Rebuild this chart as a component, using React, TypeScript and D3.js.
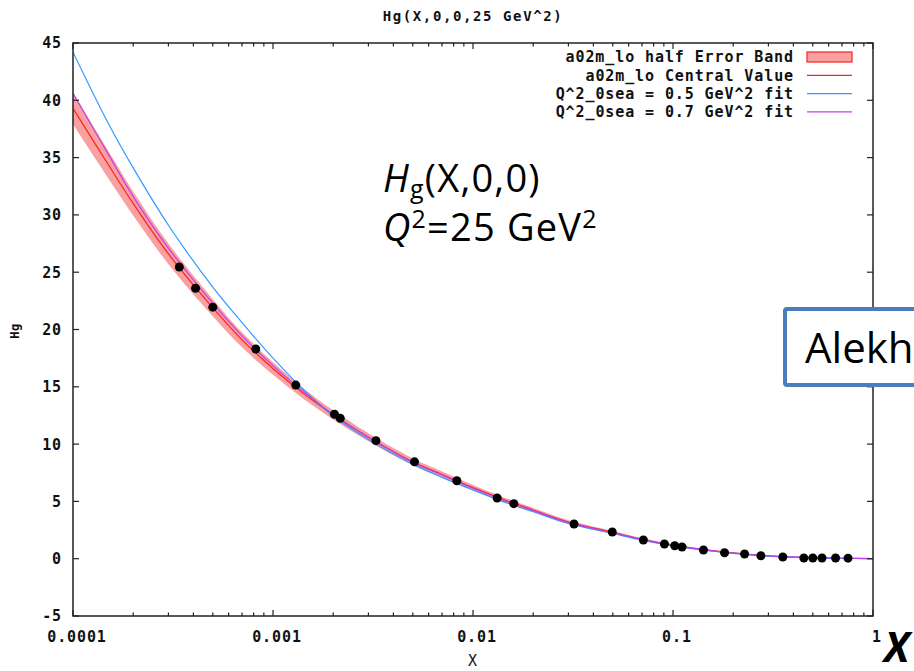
import React from "react";
import * as d3 from "d3";

const gridX = [1e-4, 1.5e-4, 2e-4, 3e-4, 5e-4, 7e-4, 1e-3, 1.5e-3, 2e-3, 3e-3, 5e-3, 7e-3, 1e-2, 1.5e-2, 2e-2, 3e-2, 5e-2, 7e-2, 0.1, 0.15, 0.2, 0.3, 0.5, 0.7, 1];
const centralValue = [39.3, 34.4, 31.0, 26.6, 21.9, 19.1, 16.6, 14.1, 12.55, 10.6, 8.45, 7.35, 6.2, 5.0, 4.25, 3.2, 2.3, 1.7, 1.18, 0.74, 0.5, 0.25, 0.09, 0.04, 0];
const bandHalfWidth = [1.4, 1.2, 1.05, 0.9, 0.75, 0.65, 0.55, 0.45, 0.4, 0.35, 0.3, 0.27, 0.24, 0.2, 0.18, 0.15, 0.12, 0.1, 0.08, 0.06, 0.05, 0.04, 0.03, 0.02, 0.02];
const fit05 = [44.2, 38.0, 34.1, 29.1, 23.7, 20.6, 17.5, 14.35, 12.45, 10.4, 8.25, 7.1, 6.0, 4.82, 4.1, 3.07, 2.2, 1.62, 1.12, 0.7, 0.47, 0.23, 0.08, 0.03, 0];
const fit07 = [40.6, 35.3, 31.6, 27.1, 22.3, 19.45, 16.85, 14.25, 12.6, 10.6, 8.42, 7.3, 6.15, 4.95, 4.2, 3.15, 2.27, 1.67, 1.16, 0.72, 0.49, 0.24, 0.085, 0.04, 0];

const pointX = [3.4e-4, 4.1e-4, 5.0e-4, 8.2e-4, 1.3e-3, 2.03e-3, 2.17e-3, 3.27e-3, 5.1e-3, 8.3e-3, 1.32e-2, 1.6e-2, 3.2e-2, 0.0497, 0.0711, 0.0906, 0.102, 0.111, 0.142, 0.181, 0.228, 0.275, 0.354, 0.451, 0.5, 0.556, 0.65, 0.75];
const pointY = [25.45, 23.6, 21.95, 18.3, 15.15, 12.6, 12.25, 10.3, 8.45, 6.8, 5.3, 4.8, 3.03, 2.33, 1.63, 1.28, 1.13, 1.02, 0.76, 0.52, 0.41, 0.26, 0.15, 0.06, 0.06, 0.06, 0.06, 0.05];

const yTicks = [-5, 0, 5, 10, 15, 20, 25, 30, 35, 40, 45];
const xMajorTicks = [1e-4, 1e-3, 1e-2, 1e-1, 1];
const xMajorLabels = ["0.0001", "0.001", "0.01", "0.1", "1"];

const legendLabels = [
  "a02m_lo half Error Band",
  "a02m_lo Central Value",
  "Q^2_0sea = 0.5 GeV^2 fit",
  "Q^2_0sea = 0.7 GeV^2 fit",
];

const W = 914;
const H = 671;
const L = 73, R = 873, T = 43, B = 616;

const gFont = "'DejaVu Sans Mono', monospace";
const RED = "#ff2020";
const BLUE = "#3399ff";
const MAG = "#c040f0";
const BAND = "#f9a0a0";

export default function App() {
  const x = d3.scaleLog().domain([1e-4, 1]).range([L, R]);
  const y = d3.scaleLinear().domain([-5, 45]).range([B, T]);

  const idx = gridX.map((_, i) => i);
  const curve = d3.curveCatmullRom.alpha(0.5);
  const line = (vals: number[]) =>
    d3.line<number>().x((i) => x(gridX[i])).y((i) => y(vals[i])).curve(curve)(idx) || "";
  const band =
    d3
      .area<number>()
      .x((i) => x(gridX[i]))
      .y0((i) => y(centralValue[i] - bandHalfWidth[i]))
      .y1((i) => y(centralValue[i] + bandHalfWidth[i]))
      .curve(curve)(idx) || "";

  const minorTicks: number[] = [];
  for (let d = -4; d < 0; d++) {
    for (let k = 2; k <= 9; k++) minorTicks.push(k * Math.pow(10, d));
  }

  const tickText = { fontFamily: gFont, fontWeight: 700, fontSize: 15, letterSpacing: 0.9, fill: "#111" } as const;

  return (
    <svg width={W} height={H} style={{ position: "absolute", left: 0, top: 0, background: "#fff" }}>
      <rect x={0} y={0} width={W} height={H} fill="#fff" />
      <defs>
        <clipPath id="plotclip">
          <rect x={L} y={T} width={R - L} height={B - T} />
        </clipPath>
      </defs>

      {/* title */}
      <text x={473} y={21} textAnchor="middle" {...tickText} fontSize={14} letterSpacing={1.6}>
        Hg(X,0,0,25 GeV^2)
      </text>

      {/* curves */}
      <g clipPath="url(#plotclip)">
        <path d={band} fill={BAND} stroke="none" />
        <path d={line(centralValue)} fill="none" stroke={RED} strokeWidth={1.2} />
        <path d={line(fit05)} fill="none" stroke={BLUE} strokeWidth={1.2} />
        <path d={line(fit07)} fill="none" stroke={MAG} strokeWidth={1.2} />
      </g>

      {/* data points */}
      <g>
        {pointX.map((px, i) => (
          <circle key={i} cx={x(px)} cy={y(pointY[i])} r={4.5} fill="#000" />
        ))}
      </g>

      {/* frame */}
      <rect x={L} y={T} width={R - L} height={B - T} fill="none" stroke="#222" strokeWidth={1.5} />

      {/* y ticks */}
      {yTicks.map((t) => (
        <g key={t}>
          <line x1={L} x2={L + 6} y1={y(t)} y2={y(t)} stroke="#222" strokeWidth={1.2} />
          <line x1={R} x2={R - 6} y1={y(t)} y2={y(t)} stroke="#222" strokeWidth={1.2} />
          <text x={62} y={y(t)} dy="0.36em" textAnchor="end" {...tickText}>
            {t}
          </text>
        </g>
      ))}

      {/* x ticks */}
      {xMajorTicks.map((t, i) => (
        <g key={t}>
          <line x1={x(t)} x2={x(t)} y1={B} y2={B - 6} stroke="#222" strokeWidth={1.2} />
          <line x1={x(t)} x2={x(t)} y1={T} y2={T + 6} stroke="#222" strokeWidth={1.2} />
          <text x={x(t) + 4} y={637} dy="0.36em" textAnchor="middle" {...tickText}>
            {xMajorLabels[i]}
          </text>
        </g>
      ))}
      {minorTicks.map((t) => (
        <g key={t}>
          <line x1={x(t)} x2={x(t)} y1={B} y2={B - 3.5} stroke="#222" strokeWidth={1.2} />
          <line x1={x(t)} x2={x(t)} y1={T} y2={T + 3.5} stroke="#222" strokeWidth={1.2} />
        </g>
      ))}

      {/* axis labels */}
      <text x={473} y={661} dy="0.36em" textAnchor="middle" {...tickText} fontWeight={400}>
        X
      </text>
      <text
        transform="translate(15,331) rotate(-90)"
        dy="0.36em"
        textAnchor="middle"
        {...tickText}
        fontSize={12}
        letterSpacing={0.5}
      >
        Hg
      </text>

      {/* legend */}
      {legendLabels.map((lab, i) => {
        const cy = 57 + i * 18.3;
        return (
          <g key={lab}>
            <text x={794} y={cy} dy="0.36em" textAnchor="end" {...tickText}>
              {lab}
            </text>
            {i === 0 ? (
              <rect x={807} y={cy - 5} width={45} height={10} fill={BAND} stroke={RED} strokeWidth={1.2} />
            ) : (
              <line x1={807} x2={852} y1={cy} y2={cy} stroke={i === 1 ? RED : i === 2 ? BLUE : MAG} strokeWidth={1.3} />
            )}
          </g>
        );
      })}

      {/* annotation */}
      <text x={383} y={192} fontFamily="'Open Sans', sans-serif" fontSize={38} letterSpacing={1.2} fill="#000">
        <tspan fontStyle="italic">H</tspan>
        <tspan fontSize={25} dy={6}>g</tspan>
        <tspan dy={-6}>(X,0,0)</tspan>
      </text>
      <text x={383} y={241} fontFamily="'Open Sans', sans-serif" fontSize={38} letterSpacing={1.2} fill="#000">
        <tspan fontStyle="italic">Q</tspan>
        <tspan fontSize={25} dy={-13}>2</tspan>
        <tspan dy={13}>=25 GeV</tspan>
        <tspan fontSize={25} dy={-13}>2</tspan>
      </text>

      {/* Alekh box */}
      <rect x={785} y={309} width={200} height={76} rx={2} fill="#fff" stroke="#4a7ebb" strokeWidth={4} />
      <text x={805} y={363} fontFamily="'Open Sans', sans-serif" fontSize={42} fill="#000">
        Alekh
      </text>

      {/* big X */}
      <text x={884} y={662} fontFamily="'Open Sans', sans-serif" fontSize={42} fontWeight={700} fontStyle="italic" fill="#000">
        X
      </text>
    </svg>
  );
}
